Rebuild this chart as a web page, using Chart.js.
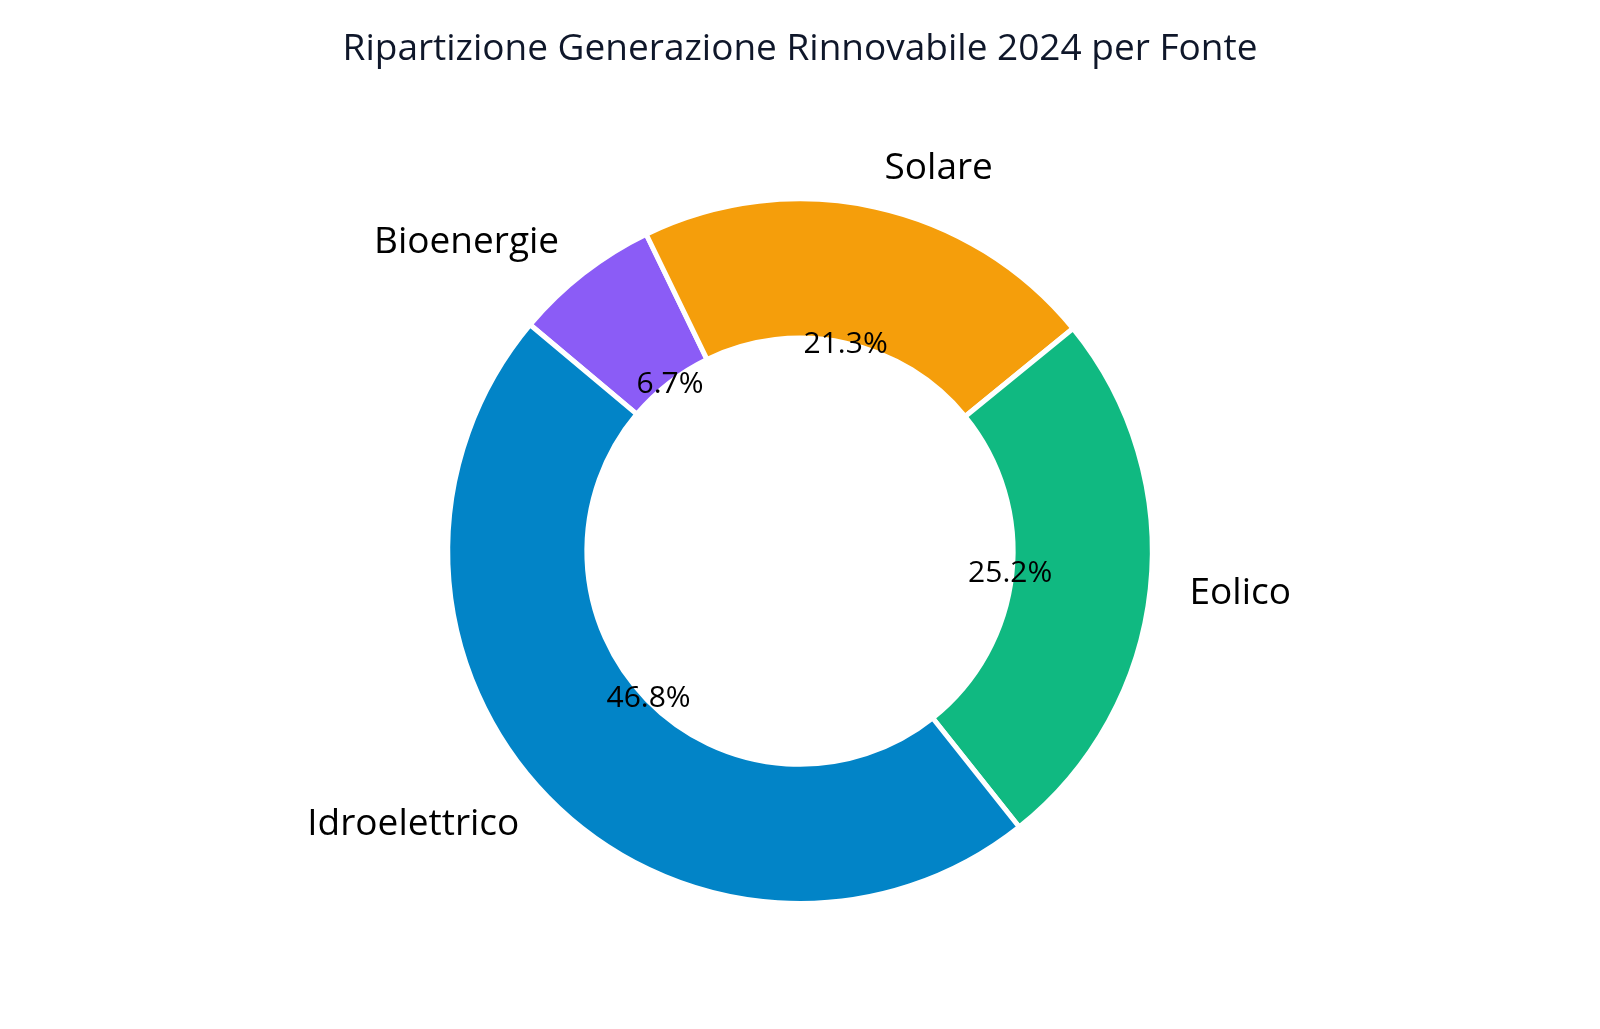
<!DOCTYPE html>
<html lang="it">
  <head>
    <meta charset="UTF-8" />
    <meta name="viewport" content="width=device-width, initial-scale=1.0" />
    <script src="https://cdn.jsdelivr.net/npm/chart.js"></script>
    <title>Ripartizione Generazione Rinnovabile 2024</title>
    <style>
      html,
      body {
        margin: 0;
        padding: 0;
        background: #ffffff;
      }
      #grafico {
        display: block;
      }
    </style>
  </head>

  <body>
    <canvas id="grafico" width="1600" height="1029"></canvas>
  </body>
</html>

<script>
  // ordine di disegno in senso orario (partendo da Bioenergie)
  const fonti = ["Bioenergie", "Solare", "Eolico", "Idroelettrico"];
  const quote = [6.7, 21.3, 25.2, 46.8];
  const colori = ["#8b5cf6", "#f59e0b", "#10b981", "#0284c7"];

  const titolo = "Ripartizione Generazione Rinnovabile 2024 per Fonte";
  const famiglia = "'Open Sans', sans-serif";

  // etichette esterne e percentuali, come in un pie di matplotlib
  const etichette = {
    id: "etichette",
    afterDatasetsDraw(chart) {
      const ctx = chart.ctx;
      const meta = chart.getDatasetMeta(0);
      const totale = quote.reduce((a, b) => a + b, 0);

      ctx.save();
      meta.data.forEach(function (arco, i) {
        const p = arco.getProps(
          ["x", "y", "startAngle", "endAngle", "outerRadius"],
          true
        );
        const medio = (p.startAngle + p.endAngle) / 2;
        const cos = Math.cos(medio);
        const sin = Math.sin(medio);

        // nome della fonte
        ctx.fillStyle = "#000000";
        ctx.font = "37px " + famiglia;
        ctx.textBaseline = "middle";
        ctx.textAlign = cos > 0 ? "left" : "right";
        ctx.fillText(
          fonti[i],
          p.x + cos * p.outerRadius * 1.112,
          p.y + sin * p.outerRadius * 1.112
        );

        // percentuale
        ctx.font = "30px " + famiglia;
        ctx.textAlign = "center";
        ctx.fillText(
          ((quote[i] / totale) * 100).toFixed(1) + "%",
          p.x + cos * p.outerRadius * 0.6,
          p.y + sin * p.outerRadius * 0.6
        );
      });
      ctx.restore();
    },
  };

  const config = {
    type: "doughnut",
    data: {
      labels: fonti,
      datasets: [
        {
          data: quote,
          backgroundColor: colori,
          borderColor: "#ffffff",
          borderWidth: 5,
        },
      ],
    },
    options: {
      responsive: false,
      animation: false,
      devicePixelRatio: 1,
      rotation: -50,
      cutout: "60.5%",
      layout: { padding: { top: 0, bottom: 123, left: 0, right: 0 } },
      plugins: {
        legend: { display: false },
        tooltip: { enabled: false },
        title: {
          display: true,
          text: titolo,
          color: "#0f172a",
          font: { family: famiglia, size: 37, weight: "normal" },
          padding: { top: 27, bottom: 125 },
        },
      },
    },
    plugins: [etichette],
  };

  const grafico = new Chart(document.getElementById("grafico"), config);
</script>
